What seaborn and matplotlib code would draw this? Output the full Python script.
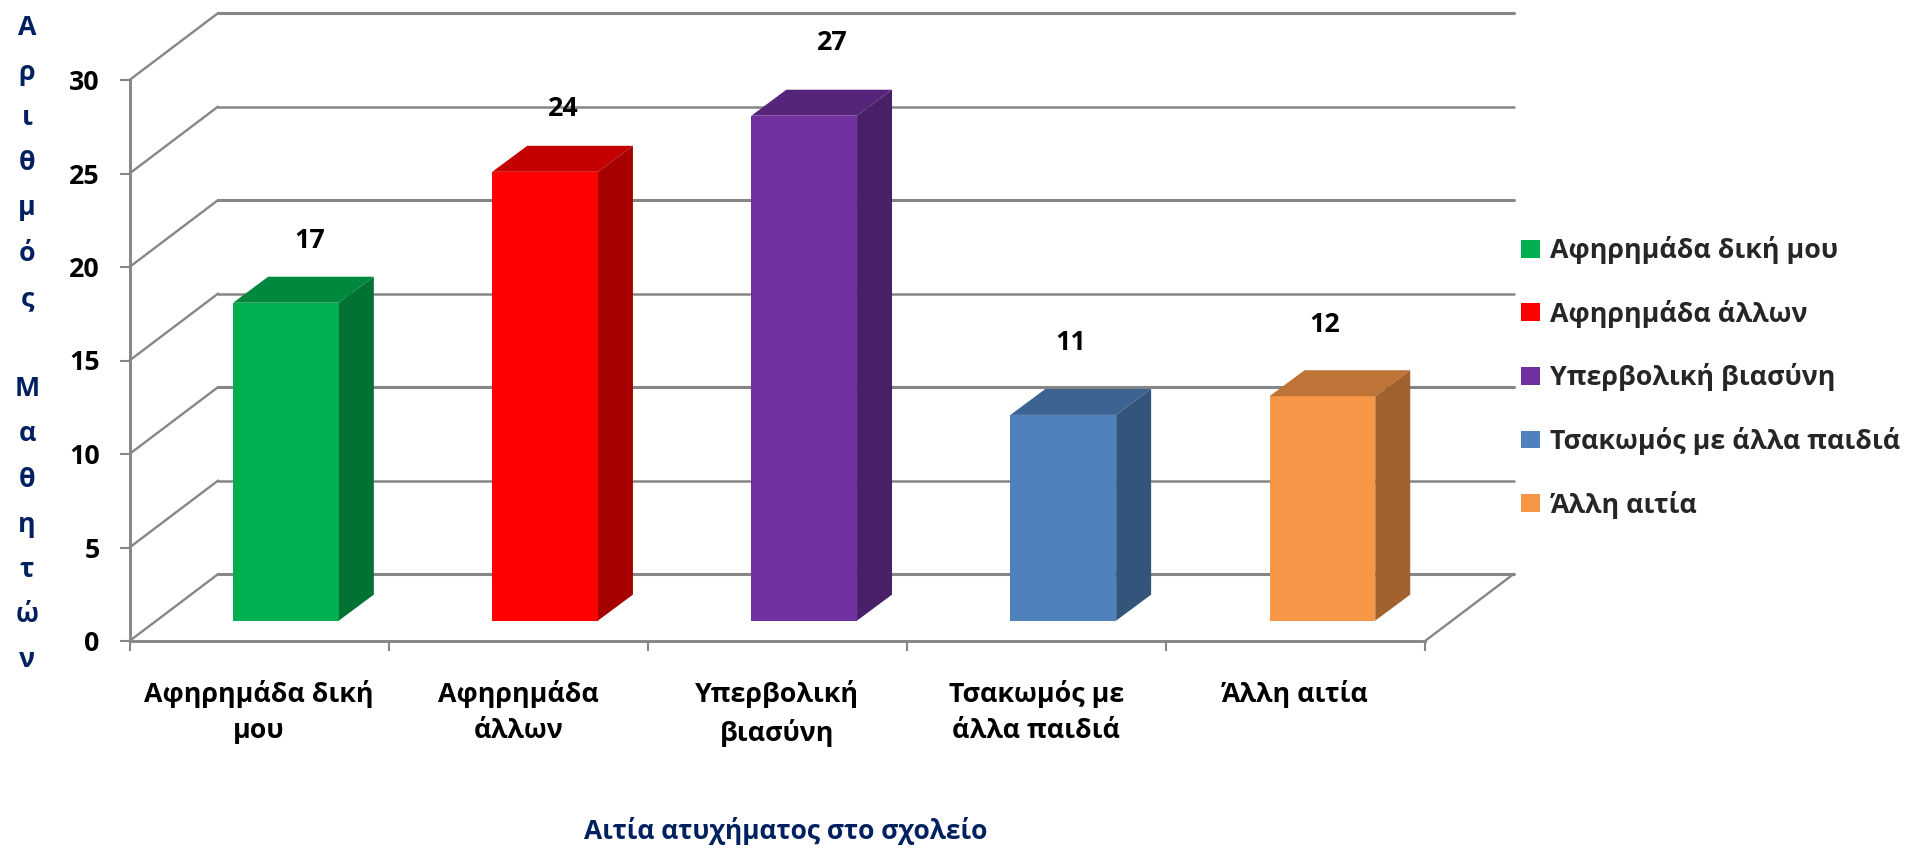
import matplotlib
matplotlib.use('Agg')
import matplotlib.pyplot as plt
import matplotlib.colors as mcolors
from matplotlib.patches import Polygon
import pandas as pd
import seaborn as sns

# data
categories = ['Αφηρημάδα δική μου', 'Αφηρημάδα άλλων', 'Υπερβολική βιασύνη', 'Τσακωμός με άλλα παιδιά', 'Άλλη αιτία']
tick_labels = ['Αφηρημάδα δική\nμου', 'Αφηρημάδα\nάλλων', 'Υπερβολική\nβιασύνη', 'Τσακωμός με\nάλλα παιδιά', 'Άλλη αιτία']
values = [17, 24, 27, 11, 12]
colors = ['#00B050', '#FF0000', '#7030A0', '#4F81BD', '#F79646']
y_ticks = [0, 5, 10, 15, 20, 25, 30]
y_title = 'Α\nρ\nι\nθ\nμ\nό\nς\n\nΜ\nα\nθ\nη\nτ\nώ\nν'
x_title = 'Αιτία ατυχήματος στο σχολείο'

sns.set_theme(style='white')
plt.rcParams['font.family'] = ['Open Sans', 'DejaVu Sans']

W, H = 1905, 848
GRID = '#868686'
NAVY = '#002060'
FS = 19.3

df = pd.DataFrame({'cause': categories, 'count': values})

fig = plt.figure(figsize=(W / 100, H / 100), dpi=100)
ax = fig.add_axes([129.5 / W, (H - 641) / H, (1425 - 129.5) / W, (641 - 80) / H])

sns.barplot(data=df, x='cause', y='count', hue='cause', hue_order=categories, palette=colors,
            width=0.408, dodge=False, saturation=1, legend=False, ax=ax, zorder=3, linewidth=0)
ax.set_xlim(-0.5, 4.5)
ax.set_ylim(0, 30)

# fake 3d : offsets in data units
wall_x, wall_y = 0.342, 3.58    # depth of the back wall
base_x, base_y = 0.104, 1.09    # where the bar stands on the floor
deep_x, deep_y = 0.135, 1.39    # depth of the bar itself

# walls and grid
for v in y_ticks:
    lw = 2.2 if v in (0, 10, 20, 30) else 1.8
    ax.plot([-0.5, -0.5 + wall_x], [v, v + wall_y], color=GRID, lw=1.7, clip_on=False, zorder=1)
    ax.plot([-0.5 + wall_x, 4.5 + wall_x], [v + wall_y, v + wall_y], color=GRID, lw=lw, clip_on=False, zorder=1)
ax.plot([4.5, 4.5 + wall_x], [0, wall_y], color=GRID, lw=1.7, clip_on=False, zorder=1)

# bars: move the front faces back and add top and side
bars = list(ax.patches)
for bar, c in zip(bars, colors):
    x0 = bar.get_x() + base_x
    w = bar.get_width()
    v = bar.get_height()
    bar.set_x(x0)
    bar.set_y(base_y)
    bar.set_clip_on(False)
    rgb = mcolors.to_rgb(c)
    top = [p * 0.77 for p in rgb]
    side = [p * 0.65 for p in rgb]
    y1 = base_y + v
    ax.add_patch(Polygon([(x0, y1), (x0 + w, y1), (x0 + w + deep_x, y1 + deep_y), (x0 + deep_x, y1 + deep_y)],
                         facecolor=top, edgecolor='none', clip_on=False, zorder=3))
    ax.add_patch(Polygon([(x0 + w, base_y), (x0 + w + deep_x, base_y + deep_y),
                          (x0 + w + deep_x, y1 + deep_y), (x0 + w, y1)],
                         facecolor=side, edgecolor='none', clip_on=False, zorder=3))

# value labels
label_dx = [24, 18, 28, 7, 2]
label_dy = [62, 63, 73, 72, 71]
for i, v in enumerate(values):
    ax.annotate(str(v), (i + base_x, v + base_y), xytext=(label_dx[i] * 0.72, label_dy[i] * 0.72),
                textcoords='offset points', ha='center', va='center', fontsize=FS,
                fontweight='bold', color='black', annotation_clip=False)

# axes
sns.despine(ax=ax)
for s in ['left', 'bottom']:
    ax.spines[s].set_color(GRID)
    ax.spines[s].set_linewidth(2.1)
ax.set_xlabel('')
ax.set_ylabel('')
ax.set_yticks(y_ticks)
ax.set_xticks([-0.5, 0.5, 1.5, 2.5, 3.5, 4.5])
ax.set_xticklabels([])
ax.set_xticks(range(5), tick_labels, minor=True)
ax.tick_params(axis='x', which='major', bottom=True, length=7.5, width=1.5, color=GRID)
ax.tick_params(axis='x', which='minor', bottom=False, length=0, pad=28, labelsize=FS)
ax.tick_params(axis='y', left=True, length=7.5, width=1.5, color=GRID, pad=14, labelsize=FS)
for t in ax.get_xticklabels(minor=True) + ax.get_yticklabels():
    t.set_fontweight('bold')
    t.set_color('black')
    t.set_linespacing(1.5)

# titles
fig.text(27 / W, 1 - 344 / H, y_title, ha='center', va='center', fontsize=FS, fontweight='bold',
         color=NAVY, linespacing=1.96)
fig.text(786 / W, 1 - 831 / H, x_title, ha='center', va='center', fontsize=19, fontweight='bold', color=NAVY)

# legend
ax.legend(bars, categories, loc='upper left', bbox_to_anchor=(1521 / W, 1 - 236 / H), bbox_transform=fig.transFigure,
          frameon=False, handlelength=0.7, handleheight=0.65, handletextpad=0.4,
          labelspacing=1.33, borderpad=0, borderaxespad=0, prop={'size': FS, 'weight': 'bold'})

fig.savefig('out.png', dpi=100)
